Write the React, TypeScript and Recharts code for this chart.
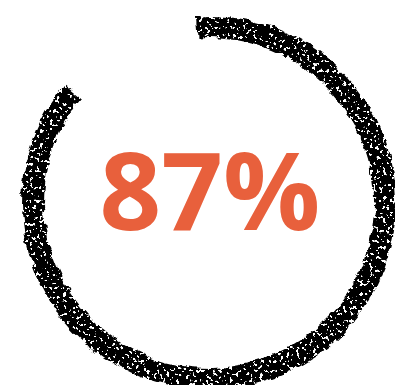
import React from "react";
import { PieChart, Pie, Cell, Label } from "recharts";

const segments = ["Complete", "Remaining"];
const values = [87, 13];
const colors = ["#000000", "transparent"];
const labelText = "87%";

const data = segments.map((name, i) => ({ name, value: values[i] }));

export default function App() {
  return (
    <div style={{ position: "absolute", left: 0, top: 0, width: 395, height: 385, background: "#fff" }}>
      <svg width={0} height={0} style={{ position: "absolute" }}>
        <defs>
          <filter id="rough" x="-10%" y="-10%" width="120%" height="120%">
            <feTurbulence type="fractalNoise" baseFrequency="0.06 0.09" numOctaves={3} seed={7} result="noise" />
            <feDisplacementMap in="SourceGraphic" in2="noise" scale={8} xChannelSelector="R" yChannelSelector="G" result="disp" />
            <feTurbulence type="fractalNoise" baseFrequency="0.3 0.3" numOctaves={2} seed={3} result="speck" />
            <feColorMatrix in="speck" type="matrix"
              values="0 0 0 0 0  0 0 0 0 0  0 0 0 0 0  0 0 0 -30 19.5" result="mask" />
            <feComposite in="disp" in2="mask" operator="in" />
          </filter>
        </defs>
      </svg>
      <PieChart width={395} height={385}>
        <Pie
          data={data}
          dataKey="value"
          nameKey="name"
          cx={204}
          cy={198}
          innerRadius={165}
          outerRadius={187}
          startAngle={94}
          endAngle={-266}
          stroke="none"
          isAnimationActive={false}
          style={{ filter: "url(#rough)" }}
        >
          {data.map((d, i) => (
            <Cell key={d.name} fill={colors[i]} stroke="none" />
          ))}
          <Label
            position="center"
            content={(props: any) => {
              const vb = props.viewBox || {};
              return (
                <text
                  x={(vb.cx ?? 204) + 6}
                  y={(vb.cy ?? 198) + 32}
                  textAnchor="middle"
                  fill="#E8603C"
                  style={{ fontFamily: "'Open Sans', sans-serif", fontWeight: 700, fontSize: 108 }}
                >
                  {labelText}
                </text>
              );
            }}
          />
        </Pie>
      </PieChart>
    </div>
  );
}
